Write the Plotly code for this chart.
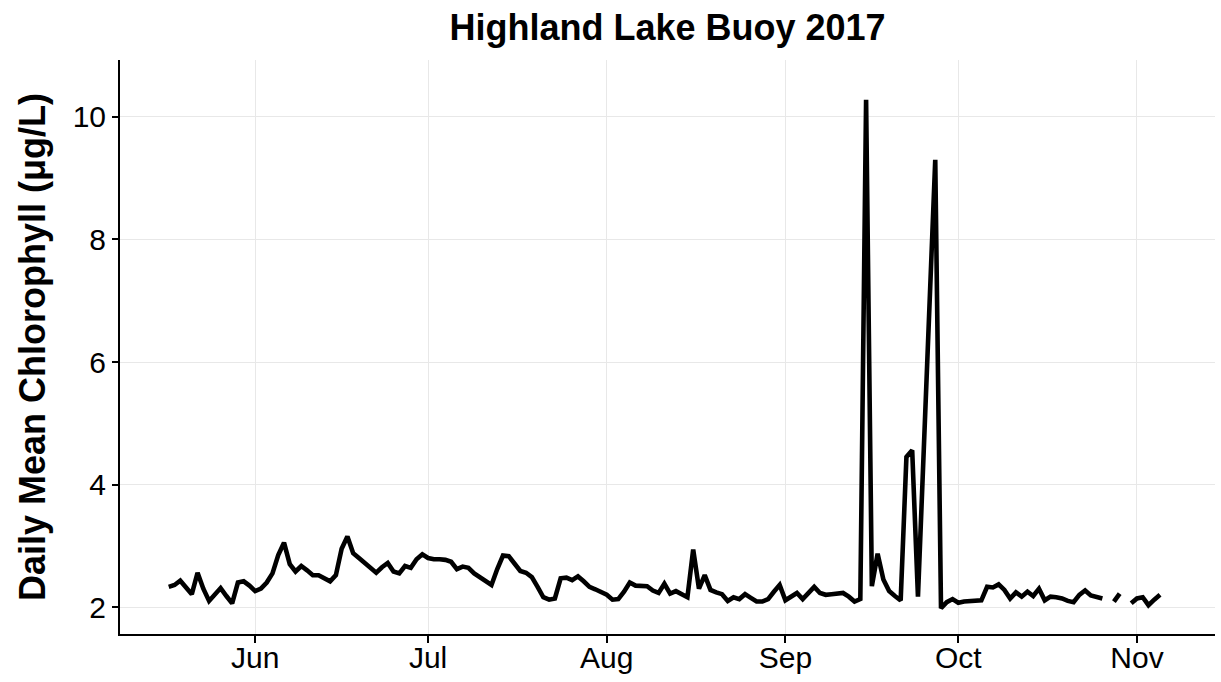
import pandas as pd
import plotly.graph_objects as go

# Daily mean chlorophyll (ug/L) from the Highland Lake buoy, 2017.
start_date = "2017-05-17"

may = [2.33, 2.36, 2.43, 2.33, 2.21, 2.56, 2.30, 2.10, 2.20, 2.31, 2.18, 2.06,
       2.40, 2.42, 2.35]
jun = [2.26, 2.30, 2.40, 2.55, 2.85, 3.05, 2.70, 2.58, 2.67, 2.60, 2.52, 2.52,
       2.47, 2.42, 2.52, 2.95, 3.15, 2.88, 2.80, 2.72, 2.62, 2.56, 2.65, 2.72,
       2.58, 2.55, 2.67, 2.64, 2.78, 2.86]
jul = [2.80, 2.78, 2.78, 2.77, 2.74, 2.62, 2.66, 2.64, 2.55, 2.48, 2.42, 2.36,
       2.62, 2.84, 2.83, 2.70, 2.59, 2.56, 2.49, 2.33, 2.16, 2.12, 2.14, 2.47,
       2.48, 2.44, 2.50, 2.42, 2.33, 2.29, 2.25]
aug = [2.20, 2.12, 2.13, 2.25, 2.40, 2.35, 2.34, 2.34, 2.27, 2.23, 2.38, 2.22,
       2.26, 2.22, 2.16, 2.94, 2.30, 2.52, 2.28, 2.24, 2.21, 2.10, 2.16, 2.13,
       2.21, 2.15, 2.09, 2.09, 2.13, 2.25, 2.36]
sep = [2.11, 2.17, 2.23, 2.13, 2.22, 2.33, 2.23, 2.20, 2.21, 2.22, 2.23, 2.17,
       2.09, 2.13, 10.28, 2.34, 2.87, 2.45, 2.26, 2.18, 2.11, 4.45, 4.56, 2.17,
       4.50, 6.90, 9.30, 1.98, 2.08, 2.13]
oct_ = [2.07, 2.09, 2.10, 2.10, 2.11, 2.33, 2.32, 2.37, 2.28, 2.14, 2.24, 2.17,
        2.25, 2.18, 2.30, 2.11, 2.17, 2.16, 2.14, 2.10, 2.08, 2.20, 2.27, 2.19,
        2.17, 2.14, None, 2.09, 2.22, None, 2.06]
nov = [2.14, 2.16, 2.03, 2.12, 2.20]

chl = may + jun + jul + aug + sep + oct_ + nov
dates = pd.date_range(start_date, periods=len(chl), freq="D")

tick_dates = ["2017-06-01", "2017-07-01", "2017-08-01", "2017-09-01",
              "2017-10-01", "2017-11-01"]
tick_labels = ["Jun", "Jul", "Aug", "Sep", "Oct", "Nov"]
y_ticks = [2, 4, 6, 8, 10]

FONT = "Liberation Sans, Arial, Helvetica, sans-serif"

fig = go.Figure(
    go.Scatter(
        x=dates, y=chl, mode="lines",
        line=dict(color="black", width=4.6),
        connectgaps=False,
        hoverinfo="x+y",
    )
)

fig.update_layout(
    width=1221, height=682,
    margin=dict(l=120, r=6, t=60, b=48),
    paper_bgcolor="white", plot_bgcolor="white",
    showlegend=False,
    font=dict(family=FONT, color="black"),
    title=dict(
        text="Highland Lake Buoy 2017",
        font=dict(family=FONT, size=36, color="black", weight="bold"),
        x=0.5, xref="paper", xanchor="center",
        y=1 - 27 / 682, yref="container", yanchor="middle",
    ),
)

fig.update_xaxes(
    range=["2017-05-08 13:00", "2017-11-14 13:00"],
    tickmode="array", tickvals=tick_dates, ticktext=tick_labels,
    tickfont=dict(size=30, color="black"),
    ticklabelstandoff=-11,
    showgrid=True, gridcolor="#e8e8e8", gridwidth=1.3,
    showline=True, linecolor="black", linewidth=2,
    ticks="outside", ticklen=7, tickwidth=2, tickcolor="black",
    zeroline=False, automargin=False,
)

fig.update_yaxes(
    range=[1.56, 10.93],
    tickmode="array", tickvals=y_ticks,
    tickfont=dict(size=30, color="black"),
    showgrid=True, gridcolor="#e8e8e8", gridwidth=1.3,
    showline=True, linecolor="black", linewidth=2,
    ticks="outside", ticklen=6, tickwidth=2, tickcolor="black",
    zeroline=False, automargin=False,
    title=dict(
        text="Daily Mean Chlorophyll (\u03bcg/L)",
        font=dict(family=FONT, size=36, color="black", weight="bold"),
        standoff=16,
    ),
)

fig.write_html("out.html")
